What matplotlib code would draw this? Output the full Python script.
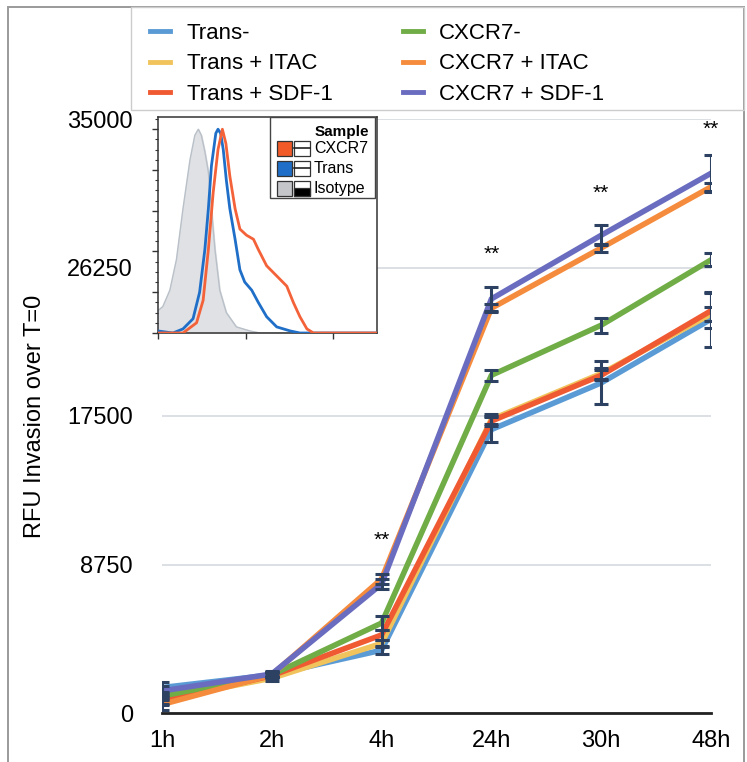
import numpy as np
import matplotlib
matplotlib.use("Agg")
import matplotlib.pyplot as plt
from matplotlib.patches import Rectangle

plt.rcParams['font.family'] = ['Liberation Sans', 'DejaVu Sans']

# time points and series (RFU invasion over T=0)
times = ["1h", "2h", "4h", "24h", "30h", "48h"]
labels = ["Trans-", "Trans + ITAC", "Trans + SDF-1",
          "CXCR7-", "CXCR7 + ITAC", "CXCR7 + SDF-1"]
colors = ["#5b9bd5", "#f0c35c", "#f05a33", "#70ad47", "#f58b3c", "#6a6cc0"]

trans_minus = [1500, 2250, 3700, 16700, 19450, 23200]
trans_itac = [800, 2050, 4100, 17300, 20000, 23500]
trans_sdf = [700, 2200, 4600, 17200, 19900, 23700]
cxcr7_minus = [1000, 2250, 5300, 19900, 22850, 26700]
cxcr7_itac = [500, 2250, 7900, 23850, 27400, 31000]
cxcr7_sdf = [1300, 2300, 7600, 24400, 28150, 31800]

err_trans_minus = [300, 150, 250, 750, 1270, 1620]
err_trans_itac = [250, 150, 200, 300, 300, 400]
err_trans_sdf = [250, 150, 300, 300, 300, 1030]
err_cxcr7_minus = [250, 150, 400, 330, 450, 380]
err_cxcr7_itac = [300, 150, 300, 250, 250, 250]
err_cxcr7_sdf = [300, 150, 300, 700, 600, 1100]

series = [trans_minus, trans_itac, trans_sdf, cxcr7_minus, cxcr7_itac, cxcr7_sdf]
errors = [err_trans_minus, err_trans_itac, err_trans_sdf,
          err_cxcr7_minus, err_cxcr7_itac, err_cxcr7_sdf]

sig_idx = [2, 3, 4, 5]
sig_y = [10200, 27000, 30600, 34400]

yticks = [0, 8750, 17500, 26250, 35000]

# flow cytometry inset: log10 intensity vs % of max
iso_x = [0, 0.11, 0.27, 0.42, 0.57, 0.73, 0.84, 0.92, 0.99, 1.07, 1.15, 1.22,
         1.30, 1.41, 1.56, 1.79, 2.10, 2.33, 5.0]
iso_y = [11, 13, 21, 36, 61, 85, 97, 100, 97, 89, 79, 61, 41, 21, 10, 3, 1, 0, 0]
trans_hx = [0, 0.34, 0.57, 0.80, 0.95, 1.07, 1.15, 1.22, 1.32, 1.37, 1.43, 1.49,
            1.56, 1.64, 1.76, 1.87, 1.98, 2.14, 2.29, 2.48, 2.71, 3.02, 3.24, 5.0]
trans_hy = [1, 0, 2, 7, 20, 41, 61, 82, 98, 100, 98, 90, 75, 61, 46, 31, 25, 21,
            15, 8, 3, 1, 0, 0]
cxcr7_hx = [0, 0.57, 0.88, 1.03, 1.15, 1.26, 1.37, 1.47, 1.55, 1.64, 1.76, 1.87,
            2.02, 2.18, 2.29, 2.48, 2.71, 2.94, 3.09, 3.24, 3.40, 3.55, 5.0]
cxcr7_hy = [0, 0, 5, 16, 41, 69, 90, 100, 93, 77, 61, 51, 48, 46, 41, 33, 28, 23,
            15, 8, 2, 0, 0]

W, H = 747, 762
fig = plt.figure(figsize=(W / 100, H / 100), dpi=100)

ax = fig.add_axes([162 / W, 1 - 713 / H, 549 / W, 594 / H])
x = np.arange(len(times))
for s, c, lab in zip(series, colors, labels):
    ax.plot(x, s, color=c, lw=4.0, label=lab, zorder=3)
for s, e in zip(series, errors):
    ax.errorbar(x, s, yerr=e, fmt='none', ecolor='#2d4262', elinewidth=2.2,
                capsize=5, capthick=2.2, zorder=4)

for i, yv in zip(sig_idx, sig_y):
    ax.text(x[i], yv, "**", ha='center', va='center', fontsize=15, color='black')

ax.set_xlim(0, len(times) - 1)
ax.set_ylim(0, 35000)
ax.set_xticks(x)
ax.set_xticklabels(times, fontsize=17)
ax.set_yticks(yticks)
ax.set_yticklabels([str(v) for v in yticks], fontsize=17)
ax.tick_params(axis='y', length=0, pad=21)
ax.tick_params(axis='x', length=0, pad=12)
ax.yaxis.grid(True, color='#d9dce0', lw=1.3)
ax.set_axisbelow(True)
for sp in ['top', 'right', 'left']:
    ax.spines[sp].set_visible(False)
ax.spines['bottom'].set_linewidth(2)
ax.spines['bottom'].set_color('#222222')
ax.set_ylabel("RFU Invasion over T=0", fontsize=17)
ax.yaxis.set_label_coords(-(162 - 35) / 549, 0.5)
ax.yaxis.label.set_va('center')

leg = fig.legend(loc='upper left', bbox_to_anchor=(150 / W, 1 - 23 / H), ncol=2,
                 frameon=False, fontsize=16, handlelength=0.9, handletextpad=0.75,
                 columnspacing=3.15, labelspacing=0.42, borderaxespad=0, borderpad=0)
for ln in leg.get_lines():
    ln.set_linewidth(3.5)

# outer frame and legend box
fig.add_artist(Rectangle((8 / W, -0.02), (744 - 8) / W, 1.02 - 7 / H,
                         transform=fig.transFigure, fill=False,
                         edgecolor='#9a9a9a', lw=1.4))
fig.add_artist(Rectangle((131 / W, 1 - 110 / H), (744 - 131) / W, 103 / H,
                         transform=fig.transFigure, fill=False,
                         edgecolor='#cccccc', lw=1.0))

# inset histogram
ins = fig.add_axes([158 / W, 1 - 333 / H, 219 / W, 216 / H])
ins.fill_between(10 ** np.array(iso_x), iso_y, color='#dfe1e4', zorder=1)
ins.plot(10 ** np.array(iso_x), iso_y, color='#b9c0c8', lw=1.0, zorder=2)
ins.plot(10 ** np.array(trans_hx), trans_hy, color='#1f6fc8', lw=2.0, zorder=3)
ins.plot(10 ** np.array(cxcr7_hx), cxcr7_hy, color='#f4623a', lw=2.0, zorder=4)
ins.set_xscale('log')
ins.set_xlim(1, 1e5)
ins.set_ylim(0, 106)
ins.set_yticks([0, 20, 40, 60, 80, 100])
ins.set_yticks(np.arange(0, 106, 5), minor=True)
ins.tick_params(which='both', direction='out', labelleft=False, labelbottom=False,
                color='#333333')
ins.tick_params(which='major', length=4, width=1)
ins.tick_params(which='minor', length=2.5, width=0.8)
for sp in ins.spines.values():
    sp.set_color('#333333')
    sp.set_linewidth(1.1)

# inset legend
lt = ins.transAxes
ins.add_patch(Rectangle((0.511, 0.625), 0.479, 0.375, transform=lt,
                        facecolor='white', edgecolor='#444444', lw=1.0, zorder=5))
ins.text(0.965, 0.932, "Sample", transform=lt, ha='right', va='center',
         fontsize=11, fontweight='bold', zorder=6)
leg_names = ["CXCR7", "Trans", "Isotype"]
leg_fill = ["#f25a28", "#1f6fc8", "#c4c6c9"]
leg_rows = [0.855, 0.762, 0.670]
for name, fc, ry in zip(leg_names, leg_fill, leg_rows):
    ins.add_patch(Rectangle((0.542, ry - 0.036), 0.068, 0.072, transform=lt,
                            facecolor=fc, edgecolor='#333333', lw=0.9, zorder=6))
    ins.add_patch(Rectangle((0.621, ry - 0.036), 0.073, 0.072, transform=lt,
                            facecolor='white', edgecolor='#333333', lw=0.9, zorder=6))
    if name == "Isotype":
        ins.add_patch(Rectangle((0.621, ry - 0.036), 0.073, 0.036, transform=lt,
                                facecolor='black', edgecolor='#333333', lw=0.9,
                                zorder=7))
    else:
        ins.plot([0.621, 0.694], [ry, ry], transform=lt, color='#222222', lw=1.2,
                 zorder=7)
    ins.text(0.712, ry, name, transform=lt, ha='left', va='center', fontsize=11.5,
             zorder=6)

fig.savefig("out.png", dpi=100)
